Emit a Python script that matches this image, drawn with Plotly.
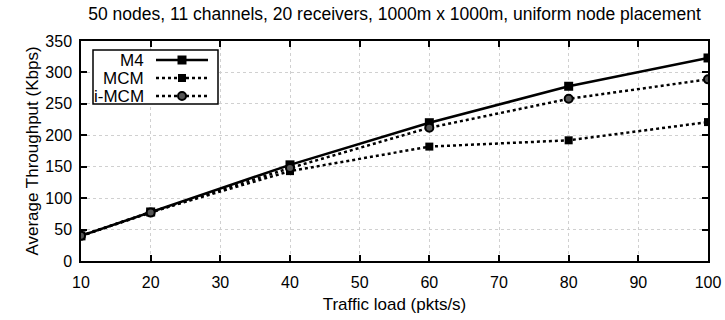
import plotly.graph_objects as go

traffic = [10, 20, 40, 60, 80, 100]
m4 = [40, 78, 153, 220, 278, 323]
mcm = [40, 78, 143, 182, 192, 221]
imcm = [40, 77, 148, 212, 258, 289]

series_names = ["M4", "MCM", "i-MCM"]
x_ticks = [10, 20, 30, 40, 50, 60, 70, 80, 90, 100]
y_ticks = [0, 50, 100, 150, 200, 250, 300, 350]

font = "Liberation Sans, Arial, sans-serif"

styles = [
    dict(dash="solid", symbol="square", size=9, fill="black"),
    dict(dash="dot", symbol="square", size=8, fill="black"),
    dict(dash="dot", symbol="circle", size=8, fill="#555"),
]

fig = go.Figure()
for name, ys, st in zip(series_names, [m4, mcm, imcm], styles):
    fig.add_trace(go.Scatter(x=traffic, y=ys, name=name, mode="lines+markers",
                             line=dict(color="black", width=2.5, dash=st["dash"]),
                             marker=dict(symbol=st["symbol"], size=st["size"], color=st["fill"],
                                         line=dict(color="black", width=2 if st["symbol"] == "circle" else 0)),
                             showlegend=False))

axis_common = dict(showline=True, linecolor="black", linewidth=1.5, mirror="allticks",
                   ticks="inside", ticklen=6, tickcolor="black", tickwidth=1.5,
                   showgrid=True, gridcolor="#d0d0d0", griddash="dot", gridwidth=1,
                   zeroline=False, automargin=False,
                   tickfont=dict(size=16, color="black", family=font))

fig.update_xaxes(range=[10, 100], tickvals=x_ticks, ticklabelstandoff=6,
                 title=dict(text="Traffic load (pkts/s)", font=dict(size=17, color="black", family=font),
                            standoff=8),
                 **axis_common)
fig.update_yaxes(range=[0, 350], tickvals=y_ticks, ticklabelstandoff=4,
                 title=dict(text="Average Throughput (Kbps)", font=dict(size=17, color="black", family=font),
                            standoff=2),
                 **axis_common)

# custom legend (text right-aligned, sample to the right), positioned in plot-area fractions
W, H = 627.0, 220.0
def px(x):
    return (x - 81) / W
def py(y):
    return 1 - (y - 41) / H

shapes = [dict(type="rect", xref="paper", yref="paper", x0=px(93), x1=px(218), y0=py(104), y1=py(50),
               line=dict(color="black", width=1.5), fillcolor="white", layer="above")]
annotations = []
row_y = [60, 78, 96]
for name, st, ry in zip(series_names, styles, row_y):
    annotations.append(dict(xref="paper", yref="paper", x=px(146), y=py(ry), text=name, showarrow=False,
                            xanchor="right", yanchor="middle",
                            font=dict(size=17, color="black", family=font)))
    shapes.append(dict(type="line", xref="paper", yref="paper", x0=px(156), x1=px(208), y0=py(ry), y1=py(ry),
                       line=dict(color="black", width=2.5, dash=st["dash"]), layer="above"))
    half = st["size"] / 2
    shapes.append(dict(type="rect" if st["symbol"] == "square" else "circle",
                       xref="paper", yref="paper", xsizemode="pixel", ysizemode="pixel",
                       xanchor=px(182), yanchor=py(ry), x0=-half, x1=half, y0=-half, y1=half,
                       fillcolor=st["fill"], line=dict(color="black", width=2 if st["symbol"] == "circle" else 0),
                       layer="above"))

fig.update_layout(
    width=725, height=320,
    margin=dict(l=81, r=17, t=41, b=59),
    paper_bgcolor="white", plot_bgcolor="white",
    title=dict(text="50 nodes, 11 channels, 20 receivers, 1000m x 1000m, uniform node placement",
               x=0.5, xref="paper", xanchor="center", y=1 - 14 / 320, yref="container", yanchor="middle",
               font=dict(size=17.5, color="black", family=font)),
    shapes=shapes, annotations=annotations,
    showlegend=False,
)

fig.write_html("out.html")
